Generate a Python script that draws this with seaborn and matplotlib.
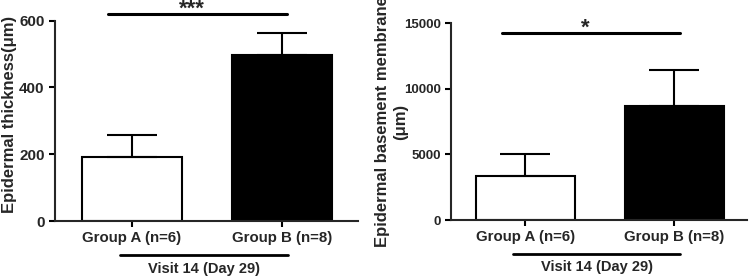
import numpy as np
import pandas as pd
import seaborn as sns
import matplotlib.pyplot as plt
import matplotlib.transforms as mtransforms

# dados
grupos = ['Group A (n=6)', 'Group B (n=8)']
espessura_media = [193, 496]
espessura_sem = [64, 68]
membrana_media = [3380, 8690]
membrana_sem = [1630, 2720]
visita = 'Visit 14 (Day 29)'
sig_espessura = '***'
sig_membrana = '*'

sns.set_style('ticks')
plt.rcParams['font.family'] = ['Liberation Sans', 'DejaVu Sans']
plt.rcParams['font.weight'] = 'bold'
plt.rcParams['axes.labelweight'] = 'bold'
plt.rcParams['axes.linewidth'] = 1.5

fig = plt.figure(figsize=(7.5, 2.78), dpi=100)
ax1 = fig.add_axes([0.0733, 0.205, 0.404, 0.7205])
ax2 = fig.add_axes([0.6013, 0.2086, 0.3947, 0.7076])


def painel(ax, medias, sems, yticks, ylabel, label_x, label_y, sig, sig_y, xlim, ytick_size):
    df = pd.DataFrame({'grupo': grupos, 'media': medias})
    sns.barplot(data=df, x='grupo', y='media', hue='grupo', palette=['white', 'black'],
                edgecolor='black', linewidth=1.5, width=0.667, legend=False, ax=ax)
    ax.errorbar(range(len(grupos)), medias, yerr=[np.zeros(len(sems)), sems], fmt='none',
                ecolor='black', elinewidth=1.5, capsize=18, capthick=1.5, zorder=5)
    ax.set_xlim(*xlim)
    ax.set_ylim(0, yticks[-1])
    ax.set_yticks(yticks)
    ax.set_xlabel('')
    ax.set_ylabel(ylabel, fontsize=12, fontweight='bold', linespacing=1.25)
    ax.yaxis.set_label_coords(label_x, label_y)
    ax.tick_params(axis='both', width=1.5, length=4.5, pad=3, color='black')
    ax.tick_params(axis='x', labelsize=10.8)
    ax.tick_params(axis='y', labelsize=ytick_size)
    for lab in ax.get_xticklabels() + ax.get_yticklabels():
        lab.set_fontweight('bold')
    sns.despine(ax=ax)

    # linha de significancia
    ax.plot([-0.16, 1.035], [sig_y, sig_y], color='black', lw=2.2, clip_on=False)
    ax.annotate(sig, xy=(0.4, sig_y), xytext=(0, -0.5), textcoords='offset points',
                ha='center', va='baseline', fontsize=16, fontweight='bold', annotation_clip=False)

    # linha e texto da visita
    trans = mtransforms.blended_transform_factory(ax.transData, ax.transAxes)
    ax.plot([-0.08, 1.04], [-0.172, -0.172], color='black', lw=2.0, transform=trans, clip_on=False)
    ax.text(0.48, -0.24, visita, transform=trans, ha='center', va='center',
            fontsize=10.5, fontweight='bold')


painel(ax1, espessura_media, espessura_sem, [0, 200, 400, 600],
       'Epidermal thickness(μm)', -0.125, 0.53, sig_espessura, 619, (-0.513, 1.507), 11)
painel(ax2, membrana_media, membrana_sem, [0, 5000, 10000, 15000],
       'Epidermal basement membrane\n(μm)', -0.145, 0.5, sig_membrana, 14260, (-0.499, 1.487), 9.5)

plt.savefig('out.png', dpi=100)
